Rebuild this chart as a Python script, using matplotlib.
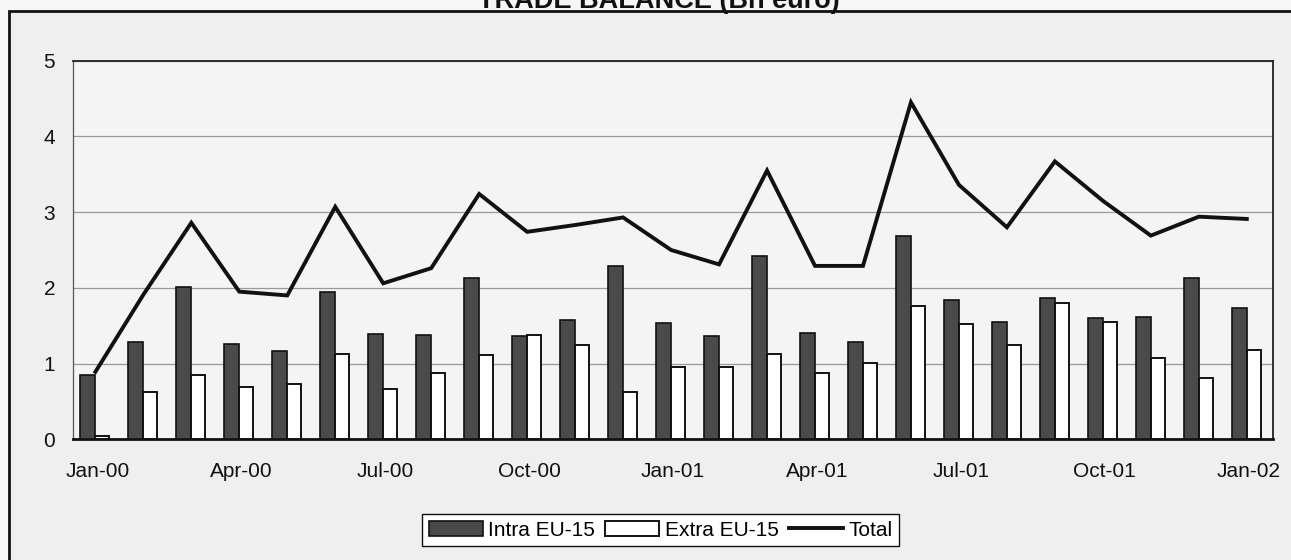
import matplotlib
matplotlib.use("Agg")
import matplotlib.pyplot as plt
from matplotlib.patches import Rectangle, Patch
from matplotlib.lines import Line2D
import numpy as np

plt.rcParams['font.family'] = ['Liberation Sans', 'DejaVu Sans']

# Monthly trade balance, Jan-2000 .. Jan-2002 (Bn euro)
months = ["Jan-00", "Feb-00", "Mar-00", "Apr-00", "May-00", "Jun-00", "Jul-00",
          "Aug-00", "Sep-00", "Oct-00", "Nov-00", "Dec-00", "Jan-01", "Feb-01",
          "Mar-01", "Apr-01", "May-01", "Jun-01", "Jul-01", "Aug-01", "Sep-01",
          "Oct-01", "Nov-01", "Dec-01", "Jan-02"]
intra_eu15 = [0.85, 1.29, 2.01, 1.26, 1.17, 1.95, 1.39, 1.38, 2.13, 1.36, 1.58, 2.29,
              1.54, 1.36, 2.42, 1.41, 1.28, 2.69, 1.84, 1.55, 1.87, 1.60, 1.62, 2.13, 1.73]
extra_eu15 = [0.04, 0.62, 0.85, 0.69, 0.73, 1.12, 0.67, 0.88, 1.11, 1.38, 1.25, 0.63,
              0.95, 0.95, 1.13, 0.88, 1.01, 1.76, 1.52, 1.25, 1.80, 1.55, 1.07, 0.81, 1.18]
total = [0.89, 1.91, 2.86, 1.95, 1.90, 3.07, 2.06, 2.26, 3.24, 2.74, 2.83, 2.93,
         2.50, 2.31, 3.55, 2.29, 2.29, 4.45, 3.36, 2.80, 3.67, 3.15, 2.69, 2.94, 2.91]
tick_labels = ["Jan-00", "Apr-00", "Jul-00", "Oct-00", "Jan-01",
               "Apr-01", "Jul-01", "Oct-01", "Jan-02"]

W, H = 1291, 560
fig = plt.figure(figsize=(W / 100, H / 100), dpi=100, facecolor="#f6f6f6")

# outer panel frame, drawn beneath the axes
fig.patches.append(Rectangle((9 / W, -0.05), 1.1, 1 - 11 / H + 0.05,
                             transform=fig.transFigure, facecolor="#efefef",
                             edgecolor="#111111", linewidth=2, zorder=-5))

fig.text(659 / W, 1 - 8 / H, "TRADE BALANCE (Bn euro)", ha="center", va="baseline",
         fontsize=19.5, fontweight="bold", color="#111111")

ax = fig.add_axes([73.3 / W, 1 - 439.3 / H, (1272.7 - 73.3) / W, (439.3 - 60.7) / H])
ax.set_zorder(2)
ax.set_facecolor("#f4f4f4")

x = np.arange(len(months))
ax.bar(x - 0.195, intra_eu15, width=0.31, color="#4a4a4a", edgecolor="#111111",
       linewidth=1.2, zorder=3)
ax.bar(x + 0.105, extra_eu15, width=0.29, color="white", edgecolor="#111111",
       linewidth=1.4, zorder=3)
ax.plot(x - 0.04, total, color="#111111", linewidth=2.8, solid_joinstyle="miter", zorder=4)

ax.set_xlim(-0.5, len(months) - 0.5)
ax.set_ylim(0, 5)
ax.set_yticks(range(6))
ax.set_xticks(x[::3])
ax.set_xticklabels(tick_labels)
ax.tick_params(axis="both", length=0, labelsize=15, colors="#111111")
ax.tick_params(axis="x", pad=16)
ax.tick_params(axis="y", pad=13)

ax.yaxis.grid(True, color="#999999", linewidth=0.9, zorder=1)
ax.set_axisbelow(True)

for side in ["top", "right"]:
    ax.spines[side].set_color("#222222")
    ax.spines[side].set_linewidth(1.3)
ax.spines["left"].set_color("#555555")
ax.spines["left"].set_linewidth(0.9)
ax.spines["bottom"].set_color("#111111")
ax.spines["bottom"].set_linewidth(2)

handles = [Patch(facecolor="#4a4a4a", edgecolor="#111111", linewidth=1.2),
           Patch(facecolor="white", edgecolor="#111111", linewidth=1.4),
           Line2D([], [], color="#111111", linewidth=2.8)]
leg = fig.legend(handles, ["Intra EU-15", "Extra EU-15", "Total"], ncol=3,
                 loc="center", bbox_to_anchor=(660.5 / W, 1 - 530 / H),
                 fontsize=15, frameon=True, fancybox=False, framealpha=1,
                 edgecolor="#111111", handlelength=2.6, handleheight=0.7,
                 handletextpad=0.25, columnspacing=0.5, borderpad=0.3,
                 borderaxespad=0)
leg.get_frame().set_linewidth(1.0)
leg.get_frame().set_facecolor("white")

fig.savefig("out.png", dpi=100, facecolor=fig.get_facecolor())
